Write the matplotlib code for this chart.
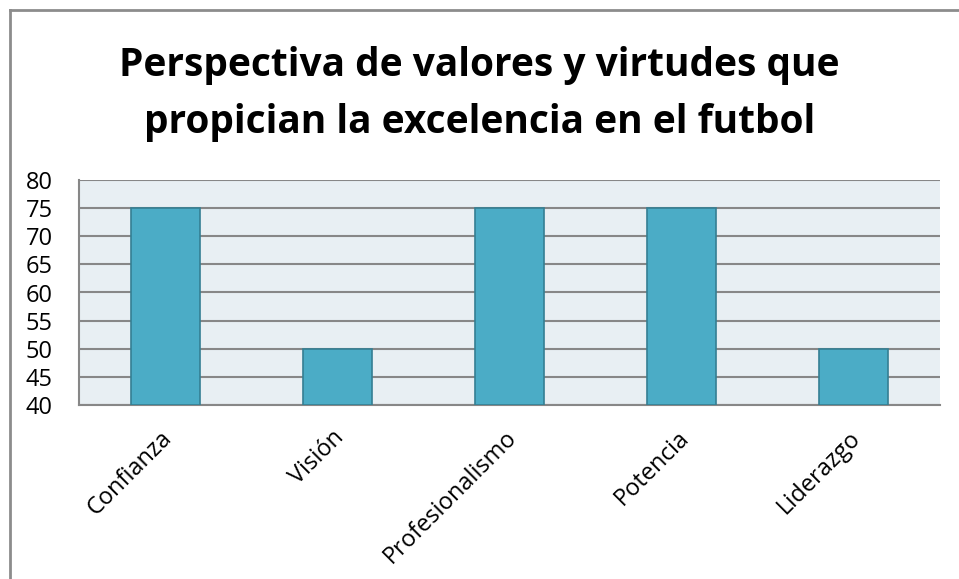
import matplotlib
matplotlib.use("Agg")
import matplotlib.pyplot as plt
from matplotlib.lines import Line2D
from matplotlib.transforms import ScaledTranslation

plt.rcParams["font.family"] = ["Open Sans", "DejaVu Sans"]

categories = ["Confianza", "Visión", "Profesionalismo", "Potencia", "Liderazgo"]
values = [75, 50, 75, 75, 50]
yticks = [40, 45, 50, 55, 60, 65, 70, 75, 80]
title_lines = ["Perspectiva de valores y virtudes que",
               "propician la excelencia en el futbol"]

BAR = "#4BACC6"
EDGE = "#357F93"
BG = "#E8EFF3"
GRID = "#878787"

W, H = 959, 579
fig = plt.figure(figsize=(W / 100, H / 100), dpi=100)
ax = fig.add_axes([79 / W, 1 - 405 / H, (940 - 79) / W, (405 - 180) / H])
ax.set_facecolor(BG)

x = range(len(categories))
ax.bar(x, [v - 40 for v in values], bottom=40, width=0.4, color=BAR,
       edgecolor=EDGE, linewidth=1.2, zorder=3)
ax.set_xlim(-0.5, len(categories) - 0.5)
ax.set_ylim(40, 80)
ax.set_yticks(yticks)
ax.yaxis.grid(True, color=GRID, linewidth=1.5, zorder=0)
ax.set_axisbelow(True)
for s in ("top", "right"):
    ax.spines[s].set_visible(False)
for s in ("left", "bottom"):
    ax.spines[s].set_color(GRID)
    ax.spines[s].set_linewidth(1.5)
ax.tick_params(axis="both", length=0, labelsize=17)
ax.set_xticks(list(x))
ax.set_xticklabels(categories, rotation=45, ha="right", rotation_mode="anchor")
ax.tick_params(axis="x", pad=15)
ax.tick_params(axis="y", pad=19)
# nudge rotated labels a little left, as in the original
shift = ScaledTranslation(-5 / 100, 0, fig.dpi_scale_trans)
for lab in ax.get_xticklabels():
    lab.set_transform(lab.get_transform() + shift)

for i, line in enumerate(title_lines):
    fig.text(0.5, 1 - (76 + 57 * i) / H, line, ha="center", va="baseline",
             fontsize=28, fontweight="bold")

# outer chart frame (only top and left edges show)
fig.add_artist(Line2D([9.5 / W, 1], [1 - 9.5 / H] * 2, color="#8C8C8C", lw=2))
fig.add_artist(Line2D([9.5 / W] * 2, [0, 1 - 9.5 / H], color="#8C8C8C", lw=2))

fig.savefig("out.png", dpi=100)
